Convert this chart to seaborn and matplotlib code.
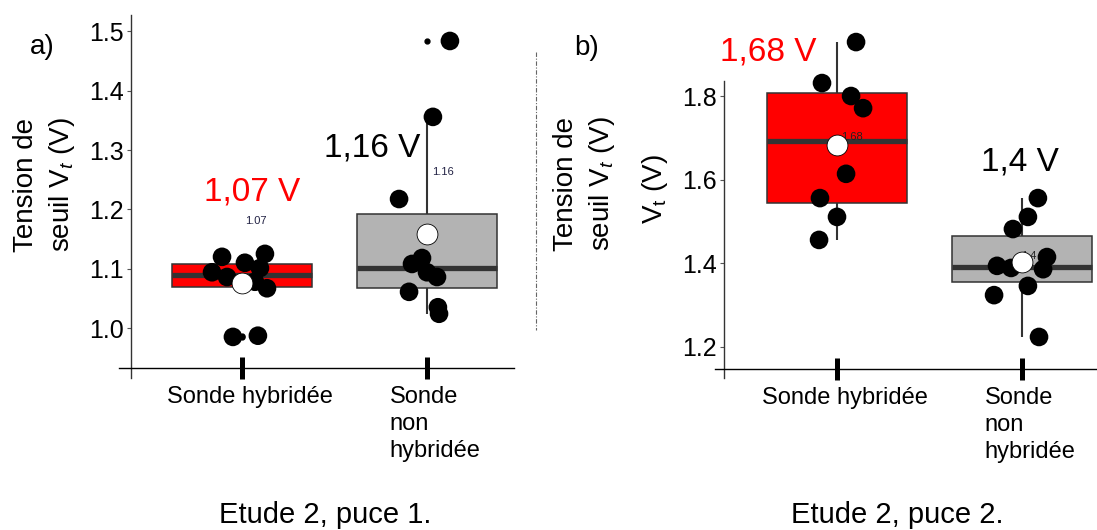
import numpy as np
import pandas as pd
import matplotlib
matplotlib.use('Agg')
import matplotlib.pyplot as plt
import matplotlib.transforms as mtransforms
from matplotlib.lines import Line2D
import seaborn as sns

sns.set_style('white')
plt.rcParams['font.family'] = ['Liberation Sans', 'DejaVu Sans']
plt.rcParams['text.color'] = 'black'
plt.rcParams['mathtext.fontset'] = 'custom'
plt.rcParams['mathtext.rm'] = 'Liberation Sans'
plt.rcParams['mathtext.it'] = 'Liberation Sans:italic'

groups = ['Sonde hybridée', 'Sonde\nnon\nhybridée']
box_colors = {groups[0]: '#FF0000', groups[1]: '#B3B3B3'}

# Etude 2, puce 1 : valeurs de Vt et decalage horizontal (jitter) des points
p1_hyb = [1.120, 1.110, 1.125, 1.094, 1.086, 1.101, 1.078, 1.067, 0.985, 0.987]
p1_hyb_jit = [-0.108, 0.016, 0.124, -0.162, -0.081, 0.097, 0.070, 0.135, -0.049, 0.086]
p1_non = [1.484, 1.356, 1.2175, 1.108, 1.118, 1.094, 1.086, 1.061, 1.035, 1.024]
p1_non_jit = [0.124, 0.032, -0.151, -0.081, -0.027, 0.0, 0.054, -0.097, 0.059, 0.065]

# Etude 2, puce 2
p2_hyb = [1.929, 1.831, 1.800, 1.771, 1.614, 1.556, 1.511, 1.456]
p2_hyb_jit = [0.103, -0.081, 0.076, 0.141, 0.049, -0.092, 0.0, -0.097]
p2_non = [1.556, 1.511, 1.482, 1.415, 1.394, 1.389, 1.386, 1.346, 1.324, 1.224]
p2_non_jit = [0.086, 0.032, -0.049, 0.135, -0.135, -0.059, 0.114, 0.032, -0.151, 0.092]

p1_ticks = [1.0, 1.1, 1.2, 1.3, 1.4, 1.5]
p2_ticks = [1.2, 1.4, 1.6, 1.8]

# annotations (texte, x, y, couleur, taille)
p1_notes = [('1,07 V', 0.054, 1.229, 'red', 24), ('1.07', 0.076, 1.180, '#222244', 8),
            ('1,16 V', 0.703, 1.3035, 'black', 24), ('1.16', 1.086, 1.263, '#222244', 8)]
p2_notes = [('1,68 V', -0.373, 1.905, 'red', 24), ('1.68', 0.081, 1.702, '#222222', 8),
            ('1,4 V', 0.989, 1.642, 'black', 24), ('1.4', 1.038, 1.417, '#222222', 8)]

W, H = 1097, 530
fig = plt.figure(figsize=(W / 100, H / 100), dpi=100)


def px_rect(x0, y0, x1, y1):
    return [x0 / W, 1 - y1 / H, (x1 - x0) / W, (y1 - y0) / H]


def panel(ax, hyb, hyb_jit, non, non_jit, notes, ticks, xlim, ylim, lbounds, bbounds):
    df = pd.DataFrame({
        'pos': [0] * len(hyb) + [1] * len(non),
        'grp': [groups[0]] * len(hyb) + [groups[1]] * len(non),
        'v': hyb + non,
        'jit': hyb_jit + non_jit})
    df['x'] = df['pos'] + df['jit']
    sns.boxplot(data=df, x='pos', y='v', hue='grp', palette=box_colors, native_scale=True,
                width=0.76, dodge=False, legend=False, saturation=1, linecolor='#333333',
                linewidth=1.1, showcaps=False, fliersize=3.5,
                medianprops=dict(linewidth=3.8, color='#333333'),
                whiskerprops=dict(linewidth=1.5, color='#333333'),
                flierprops=dict(marker='o', markerfacecolor='black', markeredgecolor='black'),
                ax=ax)
    sns.scatterplot(data=df, x='x', y='v', color='black', s=180, edgecolor='none',
                    zorder=3, legend=False, ax=ax)
    for txt, x, y, c, fs in notes:
        ax.text(x, y, txt, color=c, fontsize=fs, ha='center', va='center', zorder=4)
    means = df.groupby('pos')['v'].mean()
    sns.scatterplot(x=means.index, y=means.values, color='white', s=225, edgecolor='black',
                    linewidth=0.6, zorder=5, ax=ax)
    ax.set_xlim(*xlim)
    ax.set_ylim(*ylim)
    ax.set_xlabel('')
    ax.set_ylabel('')
    ax.set_yticks(ticks)
    ax.set_yticklabels([f'{t:.1f}' for t in ticks])
    ax.set_xticks([0, 1])
    ax.set_xticklabels(groups)
    ax.tick_params(axis='y', left=True, length=3, width=0.8, color='#555555', pad=2,
                   labelsize=18, labelcolor='black')
    ax.tick_params(axis='x', bottom=True, direction='inout', length=16, width=3.6,
                   color='black', pad=5, labelsize=17, labelcolor='black')
    off = mtransforms.ScaledTranslation(8 / 100, 0, fig.dpi_scale_trans)
    for lab in ax.get_xticklabels():
        lab.set_multialignment('left')
        lab.set_linespacing(1.3)
        lab.set_transform(lab.get_transform() + off)
    for s in ['top', 'right']:
        ax.spines[s].set_visible(False)
    ax.spines['left'].set_color('#333333')
    ax.spines['left'].set_linewidth(1.0)
    ax.spines['left'].set_bounds(*lbounds)
    ax.spines['bottom'].set_color('black')
    ax.spines['bottom'].set_linewidth(1.0)
    ax.spines['bottom'].set_bounds(*bbounds)
    ax.patch.set_alpha(0)


# panneau a
ax1 = fig.add_axes(px_rect(130.5, 15, 514, 368))
panel(ax1, p1_hyb, p1_hyb_jit, p1_non, p1_non_jit, p1_notes, p1_ticks,
      xlim=(-0.6027, 1.4703), ylim=(0.93255, 1.5278),
      lbounds=(0.9157, 1.5278), bbounds=(-0.665, 1.4703))

# panneau b
ax2 = fig.add_axes(px_rect(724, 15, 1097, 368.5))
panel(ax2, p2_hyb, p2_hyb_jit, p2_non, p2_non_jit, p2_notes, p2_ticks,
      xlim=(-0.6108, 1.4054), ylim=(1.1486, 1.9937),
      lbounds=(1.126, 1.836), bbounds=(-0.659, 1.4054))

ylab = 'Tension de\nseuil V$_t$ (V)'
fig.text(45 / W, 1 - 185 / H, ylab, rotation=90, fontsize=20, ha='center', va='center',
         linespacing=1.35)
fig.text(585 / W, 1 - 184 / H, ylab, rotation=90, fontsize=20, ha='center', va='center',
         linespacing=1.35)
fig.text(655 / W, 1 - 189 / H, 'V$_\\mathrm{t}$ (V)', rotation=90, fontsize=20,
         ha='center', va='center')
fig.text(42 / W, 1 - 47 / H, 'a)', fontsize=20, ha='center', va='center')
fig.text(587 / W, 1 - 48 / H, 'b)', fontsize=20, ha='center', va='center')
fig.text(325 / W, 1 - 515 / H, 'Etude 2, puce 1.', fontsize=21, ha='center', va='center')
fig.text(897 / W, 1 - 515 / H, 'Etude 2, puce 2.', fontsize=21, ha='center', va='center')
fig.add_artist(Line2D([536 / W, 536 / W], [1 - 52 / H, 1 - 330 / H], color='#666666',
                      linewidth=0.8, linestyle=(0, (4, 1.5, 1, 1.5))))

fig.savefig('out.png', dpi=100)
